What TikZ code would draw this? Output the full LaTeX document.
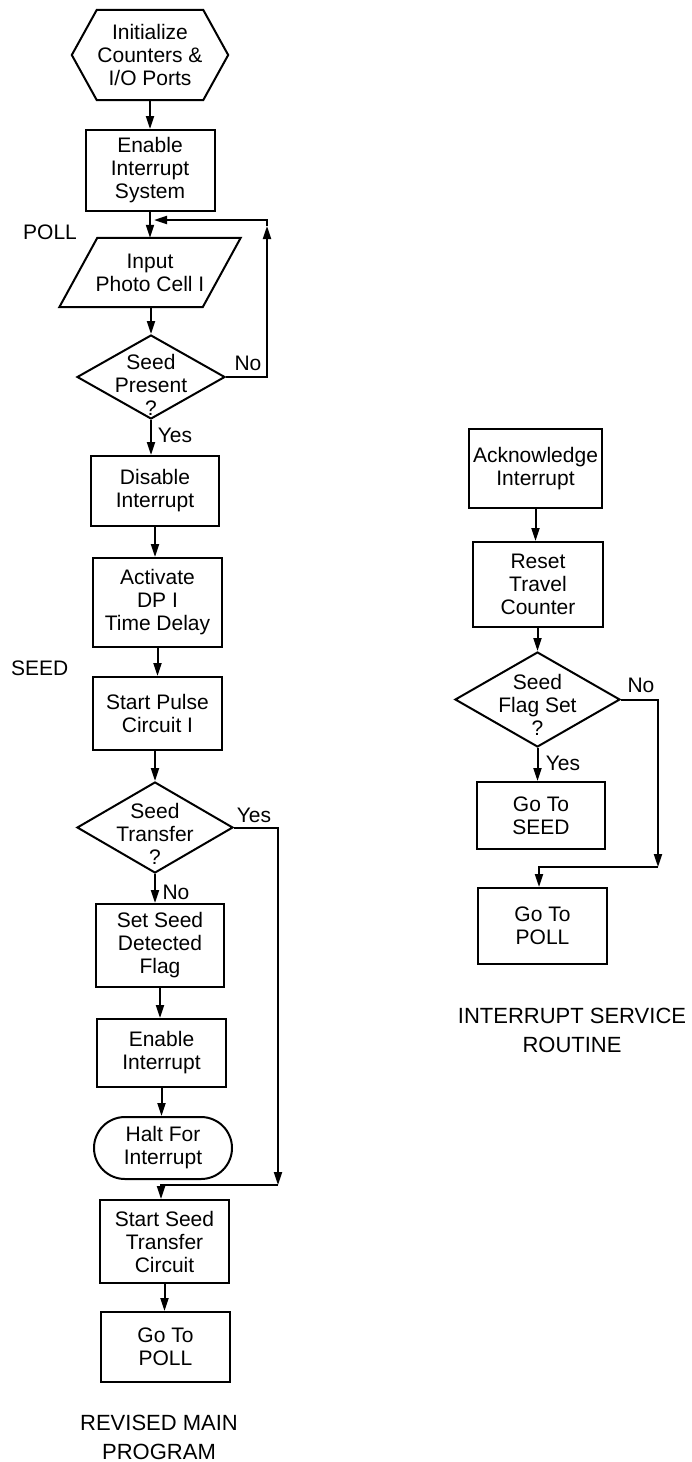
\documentclass[tikz,border=0pt]{standalone}
\usepackage{fontspec}
\setmainfont{Liberation Sans}
\usetikzlibrary{arrows.meta,shapes.geometric,calc}
\tikzset{
  txt/.style={font=\fontsize{21}{23}\selectfont, align=center, inner sep=0pt},
  box/.style={txt, draw, rectangle, line width=2},
  decision/.style={draw, diamond, line width=2, inner sep=0pt},
  wire/.style={line width=2},
  flow/.style={wire, -{Triangle[length=13pt,width=8pt]}},
  heading/.style={font=\fontsize{22}{29}\selectfont, align=center, inner sep=0pt}
}
\begin{document}
\begin{tikzpicture}[x=1pt,y=-1pt]
\fill[white] (0,0) rectangle (692,1462);
\useasboundingbox (0,0) rectangle (692,1462);

% ---------------- revised main program ----------------
\node[txt, minimum width=106, minimum height=90] (init) at (150,55) {Initialize\\Counters \&\\I/O Ports};
\draw[wire] (init.north west) -- (init.north east) -- ($(init.east)+(25,0)$)
  -- (init.south east) -- (init.south west) -- ($(init.west)+(-25,0)$) -- cycle;

\node[box, minimum width=129, minimum height=81] (enable) at (150,170.5) {Enable\\Interrupt\\System};
\coordinate (poll) at (150,220);
\node[txt, anchor=west] (polllbl) at (23,232) {POLL};

\node[txt, minimum width=143, minimum height=69] (input) at (150,272.5) {Input\\Photo Cell I};
\draw[wire] ($(input.north west)+(19,0)$) -- ($(input.north east)+(19,0)$)
  -- ($(input.south east)+(-19,0)$) -- ($(input.south west)+(-19,0)$) -- cycle;

\node[decision, minimum width=148, minimum height=84] (d1) at (151,377) {};
\node[txt] (d1t) at (151,385) {Seed\\Present\\?};

\node[box, minimum width=128, minimum height=70] (disable) at (155,491) {Disable\\Interrupt};
\node[box, minimum width=129, minimum height=89] (activate) at (157.5,602.5) {Activate\\DP I\\Time Delay};
\node[txt, anchor=west] (seedlbl) at (11,668) {SEED};
\node[box, minimum width=129, minimum height=73] (pulse) at (157.5,713.5) {Start Pulse\\Circuit I};

\node[decision, minimum width=156, minimum height=91] (d2) at (155,827.5) {};
\node[txt] (d2t) at (155,834) {Seed\\Transfer\\?};

\node[box, minimum width=128, minimum height=83] (setflag) at (160,945.5) {Set Seed\\Detected\\Flag};
\node[box, minimum width=129, minimum height=68] (enable2) at (161.5,1053) {Enable\\Interrupt};
\node[box, rounded corners=31, minimum width=138, minimum height=62] (halt) at (163,1148) {Halt For\\Interrupt};
\node[box, minimum width=129, minimum height=83] (transfer) at (164.5,1241.5) {Start Seed\\Transfer\\Circuit};
\node[box, minimum width=129, minimum height=70] (gopoll) at (165.5,1347) {Go To\\POLL};
\node[heading] (maintitle) at (159,1437.5) {REVISED MAIN\\PROGRAM};

% connectors of the main program
\draw[flow] (init.south) -- (init.south |- enable.north);
\draw[wire] (enable.south) -- (poll);
\draw[flow] (poll) -- (input.north);
\draw[flow] (input.south -| d1.north) -- (d1.north);

\coordinate (noturn) at (267,377);
\coordinate (loopmid) at (267,226);
\coordinate (looptop) at (267,220);
\draw[flow] (d1.east) -- (noturn) -- (loopmid);
\draw[flow, shorten >=4pt] (loopmid) -- (looptop) -- (poll);
\node[txt] (no1) at (248,363) {No};

\draw[flow] (d1.south) -- (d1.south |- disable.north);
\node[txt] (yes1) at (175,435) {Yes};
\draw[flow] (disable.south) -- (disable.south |- activate.north);
\draw[flow] (activate.south) -- (activate.south |- pulse.north);
\draw[flow] (pulse.south -| d2.north) -- (d2.north);

\coordinate (yesA) at (278,827.5);
\coordinate (yesB) at (278,1185);
\coordinate (yesC) at (161,1185);
\draw[flow] (d2.east) -- (yesA) -- (yesB);
\draw[flow] (yesB) -- (yesC) -- (yesC |- transfer.north);
\node[txt] (yes2) at (254,815) {Yes};

\draw[flow] (d2.south) -- (d2.south |- setflag.north);
\node[txt] (no2) at (176,892) {No};
\draw[flow] (setflag.south) -- (setflag.south |- enable2.north);
\draw[flow] (enable2.south) -- (enable2.south |- halt.north);
\draw[flow] (transfer.south) -- (transfer.south |- gopoll.north);

% ---------------- interrupt service routine ----------------
\node[box, minimum width=133, minimum height=79] (ack) at (535.5,468.5) {Acknowledge\\Interrupt};
\node[box, minimum width=130, minimum height=85] (reset) at (538,584.5) {Reset\\Travel\\Counter};
\node[decision, minimum width=165, minimum height=95] (d3) at (537.5,699.5) {};
\node[txt] (d3t) at (537.5,705) {Seed\\Flag Set\\?};
\node[box, minimum width=128, minimum height=67] (goseed) at (541,815.5) {Go To\\SEED};
\node[box, minimum width=129, minimum height=76] (gopoll2) at (542.5,926) {Go To\\POLL};
\node[heading] (isrtitle) at (572,1030.5) {INTERRUPT SERVICE\\ROUTINE};

\draw[flow] (ack.south) -- (ack.south |- reset.north);
\draw[flow] (reset.south -| d3.north) -- (d3.north);
\draw[flow] (d3.south) -- (d3.south |- goseed.north);
\node[txt] (yes3) at (563,763) {Yes};

\coordinate (noA) at (658,699.5);
\coordinate (noB) at (658,867);
\coordinate (noC) at (539,867);
\draw[flow] (d3.east) -- (noA) -- (noB);
\draw[flow] (noB) -- (noC) -- (noC |- gopoll2.north);
\node[txt] (no3) at (641,685) {No};
\end{tikzpicture}
\end{document}
